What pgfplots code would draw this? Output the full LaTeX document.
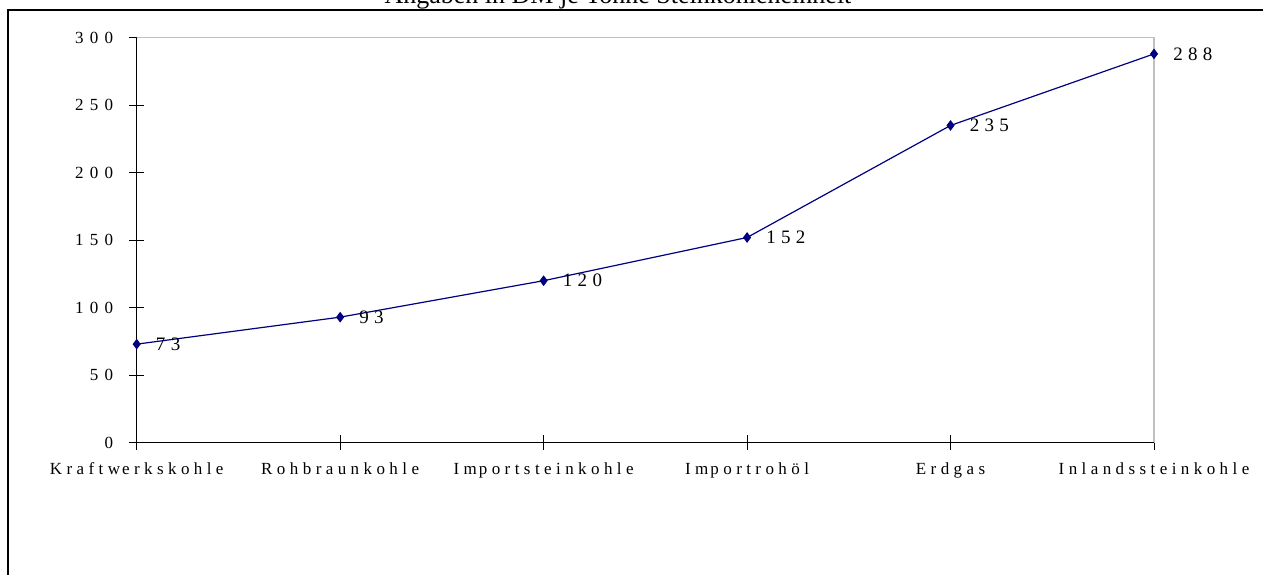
\documentclass[border=0pt]{standalone}
\usepackage{fontspec}
\setmainfont{Liberation Serif}
\newfontfamily\spaced[LetterSpace=28]{Liberation Serif}
\newfontfamily\xspaced[LetterSpace=26]{Liberation Serif}
\newfontfamily\yspaced[LetterSpace=37]{Liberation Serif}
\usepackage{pgfplots}
\pgfplotsset{compat=1.18}
\definecolor{navyline}{RGB}{0,0,128}
\definecolor{frameGray}{RGB}{192,192,192}
\begin{document}
\begin{tikzpicture}[x=1pt,y=1pt]
\useasboundingbox (0,0) rectangle (631.5,287);
\begin{scope}
\clip (0,0) rectangle (631.5,287);
\draw[line width=1pt] (3.75,-2) -- (3.75,282) -- (640,282);
\node[anchor=base, font=\fontsize{13}{14}\selectfont, inner sep=0pt] at (309,285.25) {Angaben in DM je Tonne Steinkohleneinheit};
\end{scope}
\begin{axis}[
  at={(68.35pt,65.65pt)}, anchor=south west,
  scale only axis, width=508.65pt, height=202.5pt,
  xmin=0, xmax=5, ymin=0, ymax=300,
  xtick={0,1,2,3,4,5},
  xticklabels={Kraftw\kern1pt erkskohle, Rohbraunkohle, Im\kern1pt portsteinkohle, Im\kern1pt portrohöl, Erdgas, Inlandssteinkohle},
  ytick={0,50,100,150,200,250,300},
  yticklabels={0,50,100,150,200,250,300},
  xtick pos=left, ytick pos=left,
  axis line style={draw=none},
  tick align=center, major tick length=7.5pt,
  tick style={black, line width=0.5pt},
  xticklabel style={font=\xspaced\fontsize{8.5}{9}\selectfont, yshift=-2.5pt},
  yticklabel style={font=\yspaced\fontsize{8.5}{9}\selectfont, xshift=-4.5pt},
  clip=false,
  nodes near coords={\pgfmathprintnumber[assume math mode=true]{\pgfplotspointmeta}},
  nodes near coords align={horizontal},
  every node near coord/.append style={font=\spaced\fontsize{9.5}{10}\selectfont, black, xshift=6pt},
]
\draw[frameGray, line width=0.6pt] (rel axis cs:0,1) -- (rel axis cs:1,1) -- (rel axis cs:1,0);
\draw[black, line width=0.6pt] (rel axis cs:0,1) -- (rel axis cs:0,0) -- (rel axis cs:1,0);
\addplot[navyline, line width=0.6pt, mark=diamond*, mark size=2.2pt, mark options={fill=navyline, draw=navyline}] coordinates {
  (0,73) (1,93) (2,120) (3,152) (4,235) (5,288)
};
\end{axis}
\end{tikzpicture}
\end{document}
